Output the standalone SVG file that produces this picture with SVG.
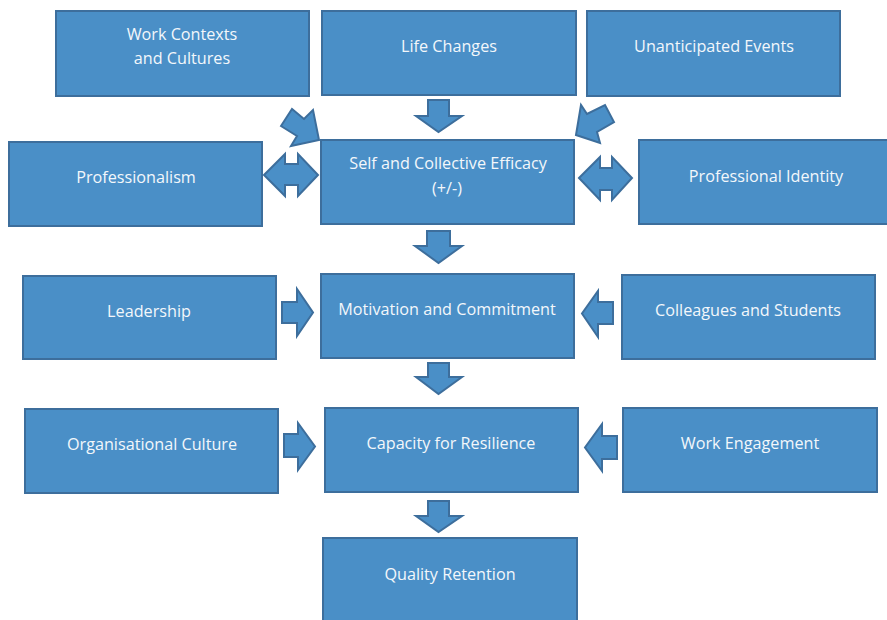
<svg xmlns="http://www.w3.org/2000/svg" width="887" height="620" viewBox="0 0 887 620">
  <style>
    .box { fill: #4a8fc7; stroke: #3d6e9c; stroke-width: 2; }
    .arr { fill: #4a8fc7; stroke: #3d6e9c; stroke-width: 2; stroke-linejoin: miter; }
    .lbl { fill: #f3f7fb; font-family: "Open Sans", "Noto Sans", sans-serif; font-size: 16.2px; text-anchor: middle; }
  </style>
  <rect width="887" height="620" fill="#ffffff"/>

  <g id="work-contexts">
    <rect class="box" x="56" y="11" width="253" height="85"/>
    <text class="lbl" x="182" y="40">Work Contexts</text>
    <text class="lbl" x="182" y="64">and Cultures</text>
  </g>
  <g id="life-changes">
    <rect class="box" x="322" y="11" width="254" height="84"/>
    <text class="lbl" x="449" y="52">Life Changes</text>
  </g>
  <g id="unanticipated-events">
    <rect class="box" x="587" y="11" width="253" height="85"/>
    <text class="lbl" x="714" y="52">Unanticipated Events</text>
  </g>
  <g id="professionalism">
    <rect class="box" x="9" y="142" width="253" height="84"/>
    <text class="lbl" x="136" y="183">Professionalism</text>
  </g>
  <g id="efficacy">
    <rect class="box" x="321" y="140" width="253" height="84"/>
    <text class="lbl" x="448" y="169">Self and Collective Efficacy</text>
    <text class="lbl" x="447" y="194">(+/-)</text>
  </g>
  <g id="professional-identity">
    <rect class="box" x="639" y="140" width="252" height="84"/>
    <text class="lbl" x="766" y="182">Professional Identity</text>
  </g>
  <g id="leadership">
    <rect class="box" x="23" y="276" width="253" height="83"/>
    <text class="lbl" x="149" y="317">Leadership</text>
  </g>
  <g id="motivation">
    <rect class="box" x="321" y="274" width="253" height="84"/>
    <text class="lbl" x="447" y="315">Motivation and Commitment</text>
  </g>
  <g id="colleagues">
    <rect class="box" x="622" y="275" width="253" height="84"/>
    <text class="lbl" x="748" y="316">Colleagues and Students</text>
  </g>
  <g id="organisational-culture">
    <rect class="box" x="25" y="409" width="253" height="84"/>
    <text class="lbl" x="152" y="450">Organisational Culture</text>
  </g>
  <g id="resilience">
    <rect class="box" x="325" y="408" width="253" height="84"/>
    <text class="lbl" x="451" y="449">Capacity for Resilience</text>
  </g>
  <g id="work-engagement">
    <rect class="box" x="623" y="408" width="254" height="84"/>
    <text class="lbl" x="750" y="449">Work Engagement</text>
  </g>
  <g id="quality-retention">
    <rect class="box" x="323" y="538" width="254" height="90"/>
    <text class="lbl" x="450" y="580">Quality Retention</text>
  </g>

  <g id="connectors">
    <!-- block arrows pointing down -->
    <polygon class="arr" points="428,100 449,100 449,116 462,116 438.5,132 416,116 428,116"/>
    <polygon class="arr" points="427,231 450,231 450,246 462,246 438.5,263 415,246 427,246"/>
    <polygon class="arr" points="428,363 449,363 449,377 462,377 438.5,394 416,377 428,377"/>
    <polygon class="arr" points="428,501 449,501 449,516 462,516 438.5,532 416,516 428,516"/>
    <!-- block arrows pointing right -->
    <polygon class="arr" points="282,302 297,302 297,289 313,312.5 297,336 297,323 282,323"/>
    <polygon class="arr" points="284,434 298,434 298,423 315,446.5 298,470 298,457 284,457"/>
    <!-- block arrows pointing left -->
    <polygon class="arr" points="613,302 598,302 598,291 582,313.5 598,337 598,324 613,324"/>
    <polygon class="arr" points="617,436 602,436 602,424 585,447.5 602,471 602,459 617,459"/>
    <!-- two-way arrows -->
    <polygon class="arr" points="264,175 285,154 285,164 298,164 298,154 318,175 298,196 298,185 285,185 285,196"/>
    <polygon class="arr" points="579,178 600,157 600,168 612,168 612,157 632,178 612,200 612,190 600,190 600,200"/>
    <!-- diagonal arrows -->
    <polygon class="arr" points="281,126 292,109 304,119 313,110 319,140 291,146 297,136"/>
    <polygon class="arr" points="576,135 581,105 587,114 605,105 614,122 597,132 600,143"/>
  </g>
</svg>
